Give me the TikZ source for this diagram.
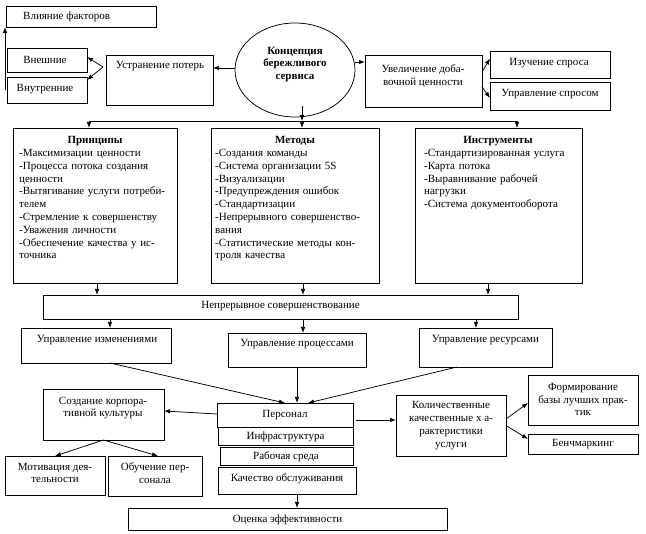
\documentclass[tikz,border=0pt]{standalone}
\usepackage{fontspec}
\setmainfont{Liberation Serif}
\usetikzlibrary{arrows.meta,shapes.geometric}
\tikzset{
 bx/.style={draw, line width=0.75pt, rectangle, inner sep=0pt, outer sep=0pt},
 tx/.style={inner sep=0pt, font=\fontsize{11}{12.8}\selectfont, align=center},
 hd/.style={inner sep=0pt, font=\fontsize{11}{12.8}\selectfont\bfseries, align=center},
 lst/.style={inner sep=0pt, font=\fontsize{11}{12.8}\selectfont, align=left, text width=#1, anchor=base west},
 ar/.style={line width=0.75pt, -{Latex[length=6pt,width=4.5pt]}},
 ln/.style={line width=0.75pt},
}
\newcommand\mkbox[5]{\node[bx, anchor=north west, minimum width={(#4-#2)*1pt}, minimum height={(#5-#3)*1pt}] (#1) at (#2,#3) {};}
\begin{document}
\begin{tikzpicture}[x=1pt,y=-1pt]
\fill[white] (0,0) rectangle (646,534);
\useasboundingbox (0,0) rectangle (646,534);

\mkbox{vli}{6}{6}{156}{27}
\node[tx, anchor=west] (vli-t) at (23,16.5) {Влияние факторов};
\mkbox{vne}{7}{48}{87}{72}
\node[tx] (vne-t) at (45,59.5) {Внешние};
\mkbox{vnu}{7}{77}{87}{103}
\node[tx] (vnu-t) at (45,89) {Внутренние};
\mkbox{ust}{106}{55}{213}{105}
\node[tx] (ust-t) at (160,66) {Устранение потерь};
\node[draw, line width=0.75pt, ellipse, minimum width=120pt, minimum height=94pt, inner sep=0pt] (ell) at (295,70) {};
\node[hd] (ell-t) at (295,64.5) {Концепция\\бережливого\\сервиса};
\mkbox{uve}{365}{55}{482}{107}
\node[tx] (uve-t) at (423,76) {Увеличение доба-\\вочной ценности};
\mkbox{izu}{490}{51}{610}{78}
\node[tx] (izu-t) at (549,63) {Изучение спроса};
\mkbox{ups}{490}{82}{610}{110}
\node[tx] (ups-t) at (550,94) {Управление спросом};

\mkbox{pri}{13}{128}{177}{283}
\node[hd, anchor=base] (pri-h) at (95,143.5) {Принципы};
\node[lst=158pt] (pri-l) at (19,156.5) {-Максимизации ценности\\-Процесса потока создания\\ценности\\-Вытягивание услуги потреби-\\телем\\-Стремление к совершенству\\-Уважения личности\\-Обеспечение качества у ис-\\точника};
\mkbox{met}{211}{128}{379}{283}
\node[hd, anchor=base] (met-h) at (295,143.5) {Методы};
\node[lst=163pt] (met-l) at (215,156.5) {-Создания команды\\-Система организации 5S\\-Визуализации\\-Предупреждения ошибок\\-Стандартизации\\-Непрерывного совершенство-\\вания\\-Статистические методы кон-\\троля качества};
\mkbox{ins}{415}{128}{582}{283}
\node[hd, anchor=base] (ins-h) at (498,143.5) {Инструменты};
\node[lst=155pt] (ins-l) at (424,156.5) {-Стандартизированная услуга\\-Карта потока\\-Выравнивание рабочей\\нагрузки\\-Система документооборота};

\mkbox{nep}{43}{295}{518}{319}
\node[tx] (nep-t) at (280.5,306.5) {Непрерывное совершенствование};
\mkbox{izm}{21}{328}{171}{363}
\node[tx] (izm-t) at (97,340) {Управление изменениями};
\mkbox{pro}{228}{333}{366}{367}
\node[tx] (pro-t) at (297,344) {Управление процессами};
\mkbox{res}{419}{328}{552}{367}
\node[tx] (res-t) at (485.5,340) {Управление ресурсами};

\mkbox{soz}{43}{389}{164}{440}
\node[tx] (soz-t) at (103,408) {Создание корпора-\\тивной культуры};
\mkbox{per}{217}{403}{353}{427}
\node[tx] (per-t) at (285,415) {Персонал};
\mkbox{inf}{218}{427}{353}{445}
\node[tx] (inf-t) at (285.5,436.5) {Инфраструктура};
\mkbox{rab}{220}{447}{353}{465}
\node[tx] (rab-t) at (286,457) {Рабочая среда};
\mkbox{kac}{218}{467}{356}{494}
\node[tx] (kac-t) at (287,478.5) {Качество обслуживания};
\mkbox{mot}{5}{456}{105}{495}
\node[tx] (mot-t) at (55,473) {Мотивация дея-\\тельности};
\mkbox{obu}{108}{456}{202}{496}
\node[tx] (obu-t) at (155,473) {Обучение пер-\\сонала};
\mkbox{kol}{396}{395}{506}{456}
\node[tx] (kol-t) at (451,425.5) {Количественные\\качественные х а-\\рактеристики\\услуги};
\mkbox{frm}{528}{375}{638}{425}
\node[tx] (frm-t) at (583,399.5) {Формирование\\базы лучших прак-\\тик};
\mkbox{ben}{528}{434}{638}{454}
\node[tx] (ben-t) at (583,444) {Бенчмаркинг};
\mkbox{oce}{128}{508}{447}{530}
\node[tx] (oce-t) at (287.5,519.5) {Оценка эффективности};

% connectors top
\coordinate (lf) at (5,90);
\draw[ar] (lf) -- (lf |- vli.south);
\coordinate (u1) at ([shift={(-3pt,13pt)}]ust.west);
\draw[ar] (u1) -- ([yshift=3pt]vne.east);
\draw[ar] (u1) -- ([yshift=10pt]vnu.east);
\coordinate (ew) at ([yshift=2pt]ell.west);
\draw[ar] (ew) -- (ew -| ust.east);
\coordinate (ee) at ([yshift=8pt]ell.east);
\draw[ar] (ee) -- (ee -| uve.west);
\draw[ar] ([yshift=9pt]uve.east) -- ([yshift=6pt]izu.west);
\draw[ar] ([yshift=-6pt]uve.east) -- ([yshift=-2pt]ups.west);

% bus
\coordinate (b1) at (89,121);
\coordinate (b2) at (302,121);
\coordinate (b3) at (517,121);
\coordinate (e1) at (302,106);
\draw[ar] (e1) -- (b2);
\draw[ln] (b1) -- (b3);
\draw[ar] (b1) -- (b1 |- pri.north);
\draw[ar] (b2) -- (b2 |- met.north);
\draw[ar] (b3) -- (b3 |- ins.north);

% to continuous improvement
\coordinate (p1) at ([xshift=2pt]pri.south);
\coordinate (p2) at ([xshift=8pt]met.south);
\coordinate (p3) at ([xshift=-10.5pt]ins.south);
\draw[ar] (p1) -- (p1 |- nep.north);
\draw[ar] (p2) -- (p2 |- nep.north);
\draw[ar] (p3) -- (p3 |- nep.north);
\coordinate (q1) at ([xshift=-170.5pt]nep.south);
\coordinate (q2) at ([xshift=22.5pt]nep.south);
\coordinate (q3) at ([xshift=195.5pt]nep.south);
\draw[ar] (q1) -- (q1 |- izm.north);
\draw[ar] (q2) -- (q2 |- pro.north);
\draw[ar] (q3) -- (q3 |- res.north);

% to personnel
\draw[ar] ([xshift=14pt]izm.south) -- (per.north);
\draw[ar] (pro.south) -- (pro.south |- per.north);
\draw[ar] ([xshift=-28.5pt]res.south) -- ([xshift=23pt]per.north);
\draw[ar] ([yshift=1pt]per.west) -- ([yshift=3.5pt]soz.east);
\draw[ar] (soz.south) -- (mot.north);
\draw[ar] (soz.south) -- ([xshift=3pt]obu.north);
\coordinate (pe) at ([shift={(3pt,-5pt)}]per.east);
\draw[ar] (pe) -- (pe -| kol.west);
\draw[ar] ([yshift=6.5pt]kol.east) -- ([yshift=-3pt]frm.west);
\draw[ar] (kol.east) -- ([yshift=5pt]ben.west);
\coordinate (k1) at ([xshift=10pt]kac.south);
\draw[ar] (k1) -- (k1 |- oce.north);
\end{tikzpicture}
\end{document}
